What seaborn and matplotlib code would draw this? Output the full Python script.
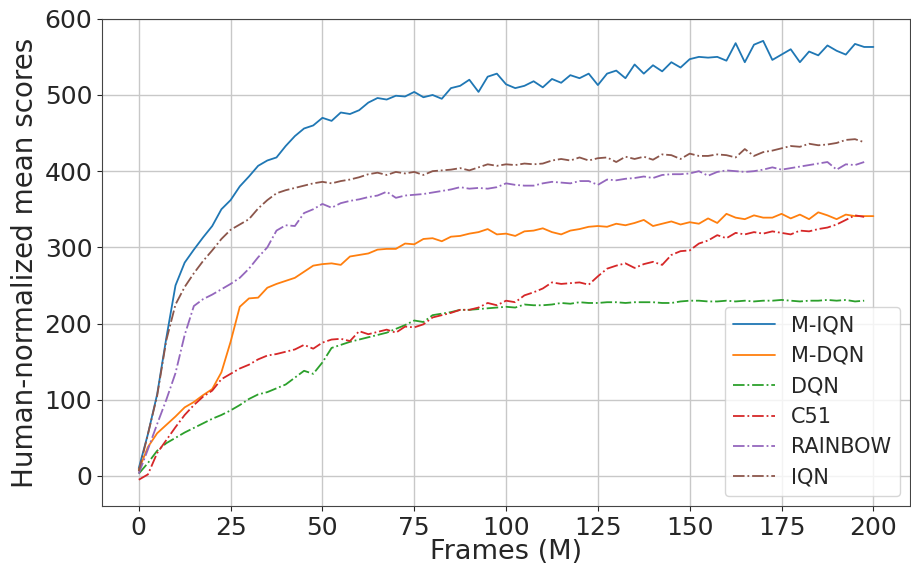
import numpy as np
import pandas as pd
import matplotlib
matplotlib.use("Agg")
import matplotlib.pyplot as plt
import seaborn as sns

# frames (M), sampled every 2.5M
frames_full = np.arange(0, 200.1, 2.5)       # M-IQN / M-DQN run to 200
frames_base = np.arange(0, 197.6, 2.5)       # baselines stop at ~197.5

m_iqn = [10, 55, 107, 181, 250, 280, 297, 313, 328, 350, 362, 380, 393, 407, 414, 418,
         433, 446, 456, 460, 470, 466, 477, 475, 480, 490, 496, 494, 499, 498, 504, 497,
         500, 495, 509, 512, 520, 504, 524, 528, 514, 509, 512, 518, 510, 521, 516, 526,
         522, 528, 513, 528, 532, 522, 540, 528, 539, 531, 543, 536, 547, 550, 549, 550,
         545, 568, 543, 566, 571, 546, 553, 560, 543, 557, 552, 565, 558, 553, 567, 563, 563]
m_dqn = [8, 38, 56, 67, 78, 90, 97, 106, 114, 136, 176, 222, 233, 234, 247, 252,
         256, 260, 268, 276, 278, 279, 277, 288, 290, 292, 297, 298, 298, 305, 304, 311,
         312, 308, 314, 315, 318, 320, 324, 317, 318, 315, 321, 322, 325, 320, 317, 322,
         324, 327, 328, 327, 331, 329, 332, 336, 328, 331, 334, 330, 333, 331, 338, 332,
         344, 339, 337, 342, 339, 339, 344, 338, 343, 337, 346, 342, 337, 343, 341, 341, 341]
dqn = [3, 17, 33, 43, 50, 57, 63, 69, 75, 80, 86, 93, 101, 107, 110, 115,
       120, 129, 138, 134, 149, 168, 172, 176, 179, 182, 185, 188, 193, 198, 204, 202,
       211, 213, 215, 218, 218, 219, 220, 221, 222, 221, 225, 224, 224, 225, 227, 226,
       228, 227, 227, 228, 228, 227, 228, 228, 228, 227, 227, 229, 230, 230, 229, 229,
       230, 229, 230, 229, 230, 230, 231, 230, 229, 230, 230, 231, 230, 231, 229, 230]
c51 = [-5, 2, 30, 47, 64, 80, 93, 104, 112, 127, 134, 141, 146, 153, 158, 160,
       163, 166, 172, 167, 175, 179, 180, 177, 190, 186, 189, 192, 188, 196, 195, 199,
       208, 211, 214, 218, 218, 221, 227, 224, 230, 228, 237, 241, 246, 254, 252, 253,
       254, 251, 262, 272, 276, 279, 273, 278, 281, 277, 290, 295, 296, 305, 309, 316,
       312, 319, 317, 320, 318, 321, 319, 317, 322, 321, 324, 326, 330, 336, 342, 340]
rainbow = [3, 35, 68, 100, 135, 185, 223, 232, 238, 245, 252, 260, 272, 287, 300, 322,
           329, 328, 345, 350, 357, 352, 358, 361, 363, 366, 368, 373, 365, 368, 369, 370,
           372, 374, 376, 379, 377, 378, 377, 379, 384, 382, 381, 381, 384, 386, 385, 384,
           387, 387, 382, 389, 388, 390, 391, 393, 391, 395, 396, 396, 397, 400, 394, 399,
           401, 400, 399, 400, 402, 405, 402, 404, 406, 408, 410, 412, 402, 409, 408, 412]
iqn = [6, 55, 105, 178, 225, 248, 266, 282, 296, 311, 323, 330, 337, 351, 362, 371,
       375, 378, 381, 384, 386, 384, 387, 389, 392, 396, 398, 395, 399, 397, 399, 395,
       400, 401, 402, 404, 401, 405, 409, 407, 409, 408, 410, 409, 410, 414, 416, 414,
       418, 414, 417, 418, 412, 419, 416, 419, 415, 422, 421, 416, 423, 420, 420, 422,
       421, 418, 429, 420, 425, 427, 430, 433, 432, 436, 434, 435, 437, 441, 442, 438]

series = [
    ("M-IQN", frames_full, m_iqn, "-"),
    ("M-DQN", frames_full, m_dqn, "-"),
    ("DQN", frames_base, dqn, "-."),
    ("C51", frames_base, c51, "-."),
    ("RAINBOW", frames_base, rainbow, "-."),
    ("IQN", frames_base, iqn, "-."),
]

sns.set_style("ticks", {"axes.grid": True, "grid.color": "#c8c8c8",
                        "axes.edgecolor": "#444444"})
plt.rcParams['font.family'] = ['DejaVu Sans']
palette = sns.color_palette("tab10")

fig, ax = plt.subplots(figsize=(9.11, 5.69), dpi=100)
fig.subplots_adjust(left=0.112, right=0.999, bottom=0.11, top=0.967)

for i, (name, xs, ys, ls) in enumerate(series):
    df = pd.DataFrame({"frames": xs, "score": ys})
    sns.lineplot(data=df, x="frames", y="score", ax=ax, color=palette[i],
                 linestyle=ls, linewidth=1.3, label=name)

ax.set_xlim(-10, 210)
ax.set_ylim(-40, 600)
ax.set_xticks(np.arange(0, 201, 25))
ax.set_yticks(np.arange(0, 601, 100))
ax.tick_params(labelsize=18)
ax.set_xlabel("Frames (M)", fontsize=19.5, labelpad=-1)
ax.set_ylabel("Human-normalized mean scores", fontsize=20)
ax.grid(True, linewidth=1.0)
ax.legend(loc="lower right", fontsize=15)

fig.savefig("out.png", dpi=100)
